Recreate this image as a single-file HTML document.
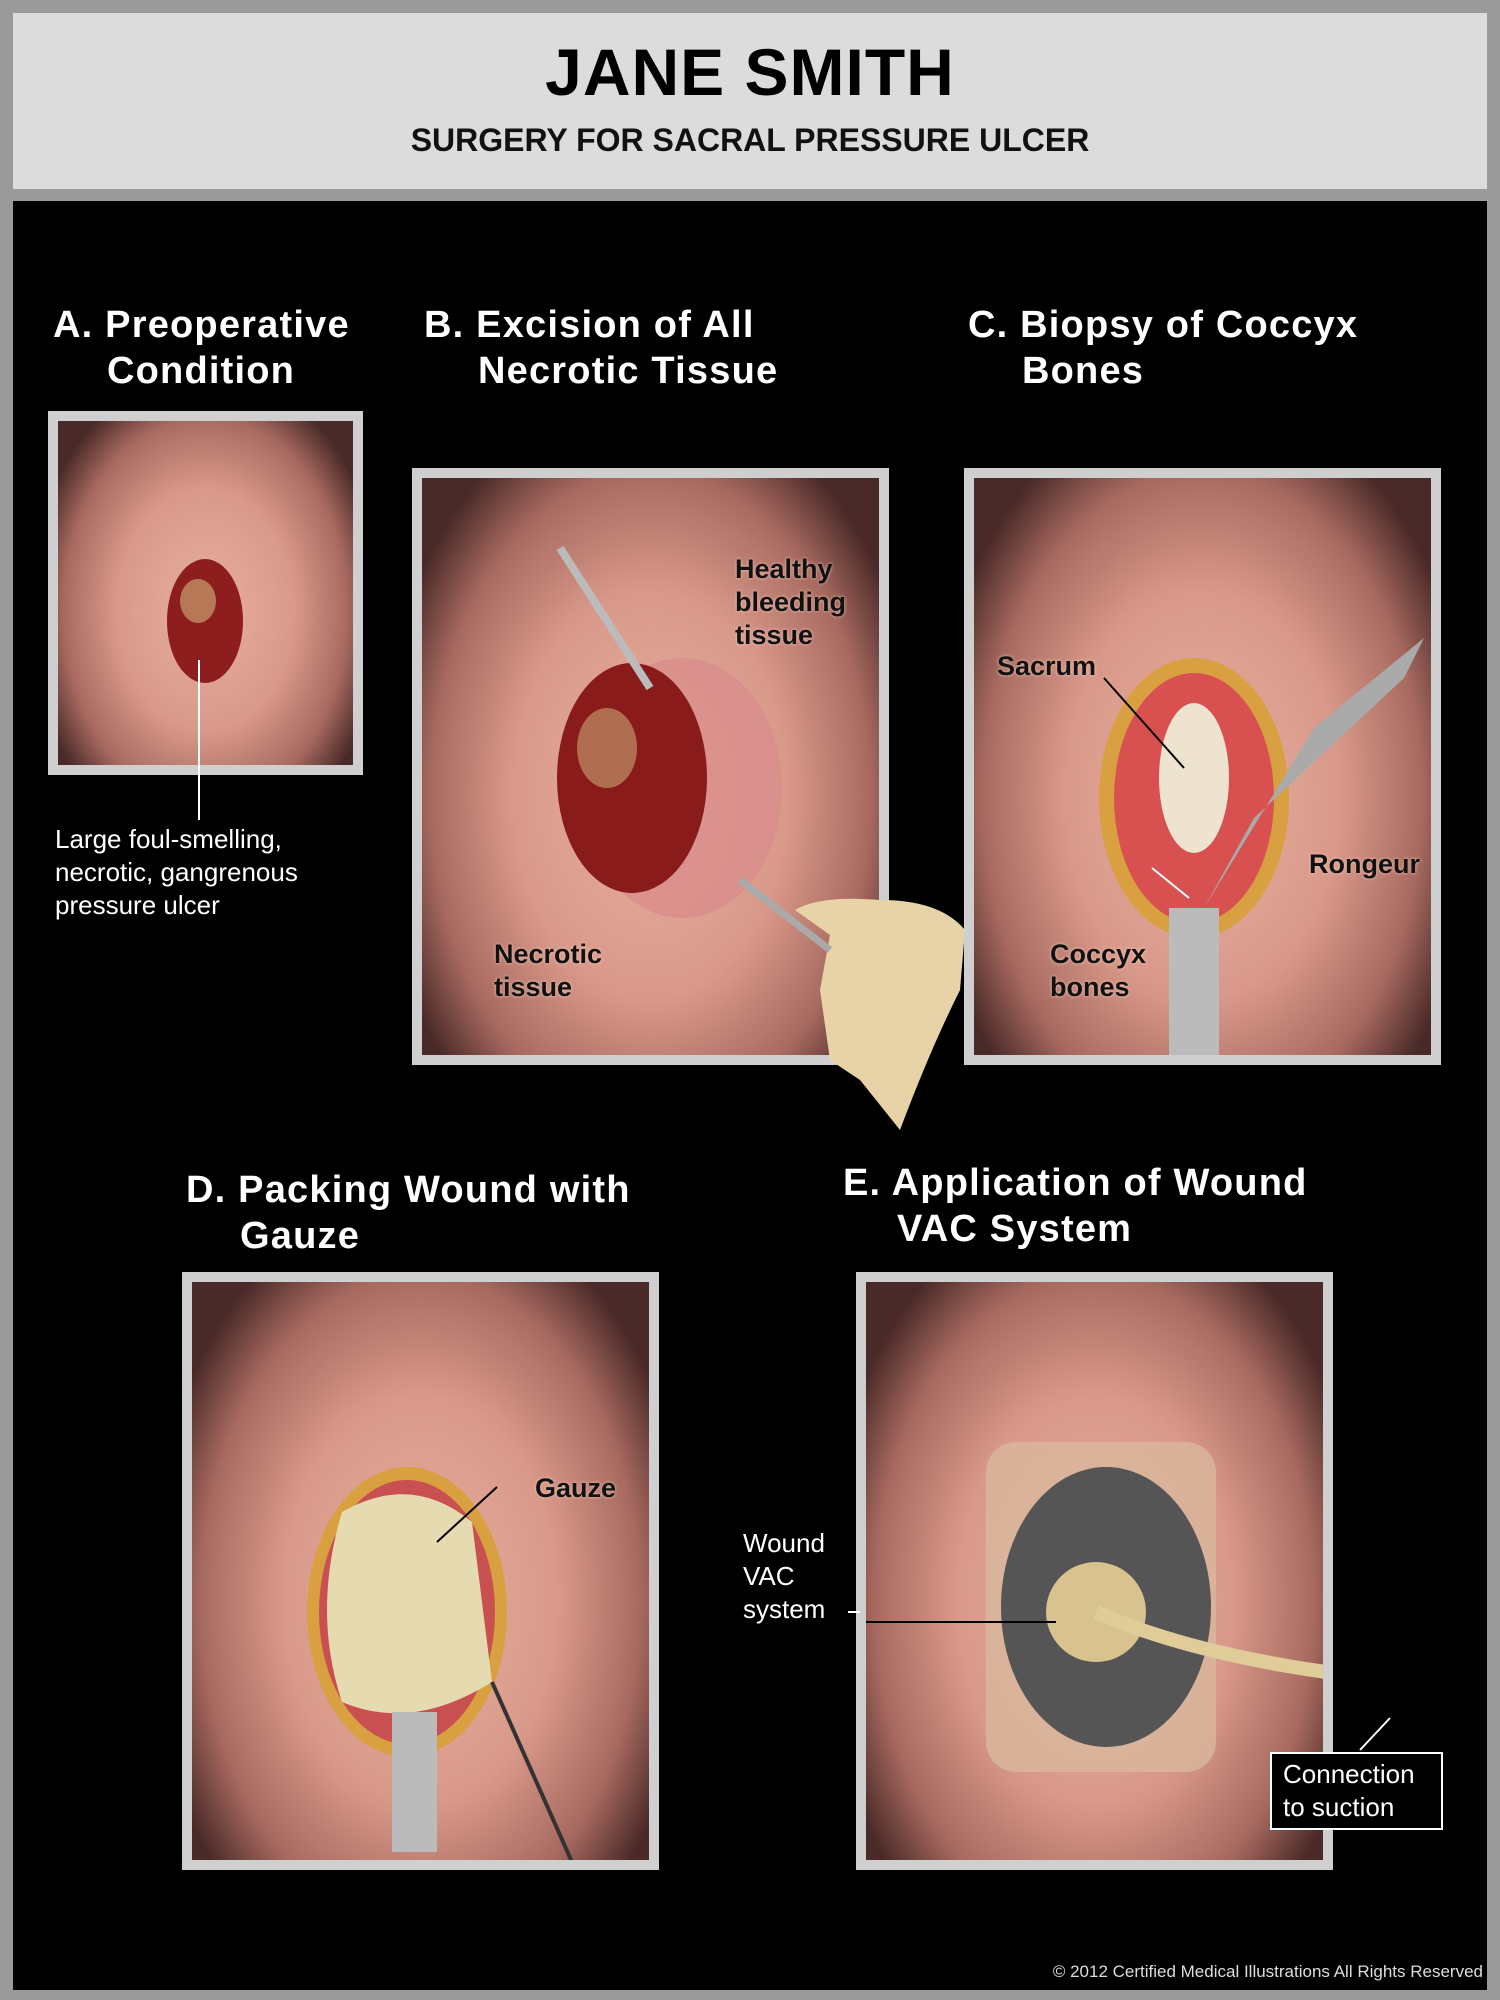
<!DOCTYPE html>
<html><head><meta charset="utf-8"><style>
body{margin:0;width:1500px;height:2000px;background:#9a9a9a;position:relative;overflow:hidden;font-family:"Liberation Sans",sans-serif}
.hdr{position:absolute;left:13px;top:13px;width:1474px;height:176px;background:#dcdcdc}
.blk{position:absolute;left:13px;top:201px;width:1474px;height:1789px;background:#000}
.t{position:absolute;white-space:nowrap}
.h{color:#fff;font-size:38px;font-weight:bold;line-height:46px;letter-spacing:1.2px}
.h span{display:block;padding-left:54px}
.fr{position:absolute;border:10px solid #cfcfcf;box-sizing:border-box;overflow:hidden;background:#000}
.skin{position:absolute;left:0;top:0;right:0;bottom:0;
background:radial-gradient(ellipse 60% 70% at 50% 55%,#e8b09f 0%,#d9998a 50%,#a86a60 80%,#4a2a28 100%)}
.lb{color:#111;font-size:27px;font-weight:bold;line-height:33px;text-shadow:0 0 3px #f3c8b8}
.lw{color:#fff;font-size:26px;line-height:33px}
svg{position:absolute;left:0;top:0}
</style></head><body>
<div class="hdr"></div>
<div class="t" style="left:0;width:1500px;text-align:center;top:34px;font-size:66px;font-weight:900;color:#000;letter-spacing:1px">JANE SMITH</div>
<div class="t" style="left:0;width:1500px;text-align:center;top:122px;font-size:32px;font-weight:bold;color:#111">SURGERY FOR SACRAL PRESSURE ULCER</div>
<div class="blk"></div>

<div class="t h" style="left:53px;top:302px">A. Preoperative<span>Condition</span></div>
<div class="t h" style="left:424px;top:302px">B. Excision of All<span>Necrotic Tissue</span></div>
<div class="t h" style="left:968px;top:302px">C. Biopsy of Coccyx<span>Bones</span></div>
<div class="t h" style="left:186px;top:1167px">D. Packing Wound with<span>Gauze</span></div>
<div class="t h" style="left:843px;top:1160px">E. Application of Wound<span>VAC System</span></div>

<!-- A -->
<div class="fr" style="left:48px;top:411px;width:315px;height:364px"><div class="skin"></div>
<svg width="300" height="350"><ellipse cx="147" cy="200" rx="38" ry="62" fill="#8e1d1d"/><ellipse cx="140" cy="180" rx="18" ry="22" fill="#c8a070" opacity=".7"/></svg></div>
<svg width="1500" height="2000" style="pointer-events:none"><line x1="199" y1="660" x2="199" y2="820" stroke="#fff" stroke-width="2"/></svg>
<div class="t lw" style="left:55px;top:823px">Large foul-smelling,<br>necrotic, gangrenous<br>pressure ulcer</div>

<!-- B -->
<div class="fr" style="left:412px;top:468px;width:477px;height:597px"><div class="skin"></div>
<svg width="460" height="580"><ellipse cx="260" cy="310" rx="100" ry="130" fill="#d98a8a" opacity=".7"/><ellipse cx="210" cy="300" rx="75" ry="115" fill="#8a1b1b"/><ellipse cx="185" cy="270" rx="30" ry="40" fill="#c9a574" opacity=".6"/>
<line x1="138" y1="70" x2="228" y2="210" stroke="#bbb" stroke-width="8"/></svg>
<div class="t lb" style="left:313px;top:75px">Healthy<br>bleeding<br>tissue</div>
<div class="t lb" style="left:72px;top:460px">Necrotic<br>tissue</div></div>
<svg width="1500" height="2000"><path d="M900 1130 Q930 1050 960 990 L965 930 Q940 900 880 900 Q820 895 795 910 L830 935 L820 990 L830 1060 L860 1080 Z" fill="#e8d3a8"/><line x1="740" y1="880" x2="830" y2="950" stroke="#aaa" stroke-width="7"/></svg>

<!-- C -->
<div class="fr" style="left:964px;top:468px;width:477px;height:597px"><div class="skin"></div>
<svg width="460" height="580"><ellipse cx="220" cy="320" rx="95" ry="140" fill="#d8a040"/><ellipse cx="220" cy="320" rx="80" ry="125" fill="#d85050"/><ellipse cx="220" cy="300" rx="35" ry="75" fill="#ede3cf"/>
<rect x="195" y="430" width="50" height="150" fill="#bbb"/><path d="M230 430 L340 250 L450 160 L430 200 L280 340Z" fill="#aaa"/>
<line x1="130" y1="200" x2="210" y2="290" stroke="#000" stroke-width="2"/><line x1="178" y1="390" x2="215" y2="420" stroke="#fff" stroke-width="2"/></svg>
<div class="t lb" style="left:23px;top:172px">Sacrum</div>
<div class="t lb" style="left:335px;top:370px">Rongeur</div>
<div class="t lb" style="left:76px;top:460px">Coccyx<br>bones</div></div>

<!-- D -->
<div class="fr" style="left:182px;top:1272px;width:477px;height:598px"><div class="skin"></div>
<svg width="460" height="580"><ellipse cx="215" cy="330" rx="100" ry="145" fill="#d8a040"/><ellipse cx="215" cy="330" rx="88" ry="132" fill="#c85050"/>
<path d="M150 230 Q220 190 280 240 L300 400 Q220 450 150 420 Q120 330 150 230Z" fill="#e6dbb0"/><rect x="200" y="430" width="45" height="140" fill="#bbb"/>
<line x1="300" y1="400" x2="380" y2="580" stroke="#333" stroke-width="4"/><line x1="245" y1="260" x2="305" y2="205" stroke="#000" stroke-width="2"/></svg>
<div class="t lb" style="left:343px;top:190px">Gauze</div></div>

<!-- E -->
<div class="fr" style="left:856px;top:1272px;width:477px;height:598px"><div class="skin"></div>
<svg width="460" height="580"><rect x="120" y="160" width="230" height="330" rx="30" fill="#d8b89c" opacity=".8"/><ellipse cx="240" cy="325" rx="105" ry="140" fill="#555"/><circle cx="230" cy="330" r="50" fill="#d8c290"/>
<path d="M230 330 Q320 370 460 390" stroke="#e0cc98" stroke-width="14" fill="none"/><line x1="0" y1="340" x2="190" y2="340" stroke="#000" stroke-width="2"/></svg></div>
<svg width="1500" height="2000"><line x1="848" y1="1612" x2="860" y2="1612" stroke="#fff" stroke-width="2"/><line x1="1360" y1="1750" x2="1390" y2="1718" stroke="#fff" stroke-width="2"/></svg>
<div class="t lw" style="left:743px;top:1527px">Wound<br>VAC<br>system</div>
<div style="position:absolute;left:1270px;top:1752px;width:173px;height:78px;border:2px solid #fff;background:#000;box-sizing:border-box"></div>
<div class="t lw" style="left:1283px;top:1758px">Connection<br>to suction</div>

<div class="t" style="right:17px;top:1962px;color:#ddd;font-size:17px">© 2012 Certified Medical Illustrations All Rights Reserved</div>
</body></html>
